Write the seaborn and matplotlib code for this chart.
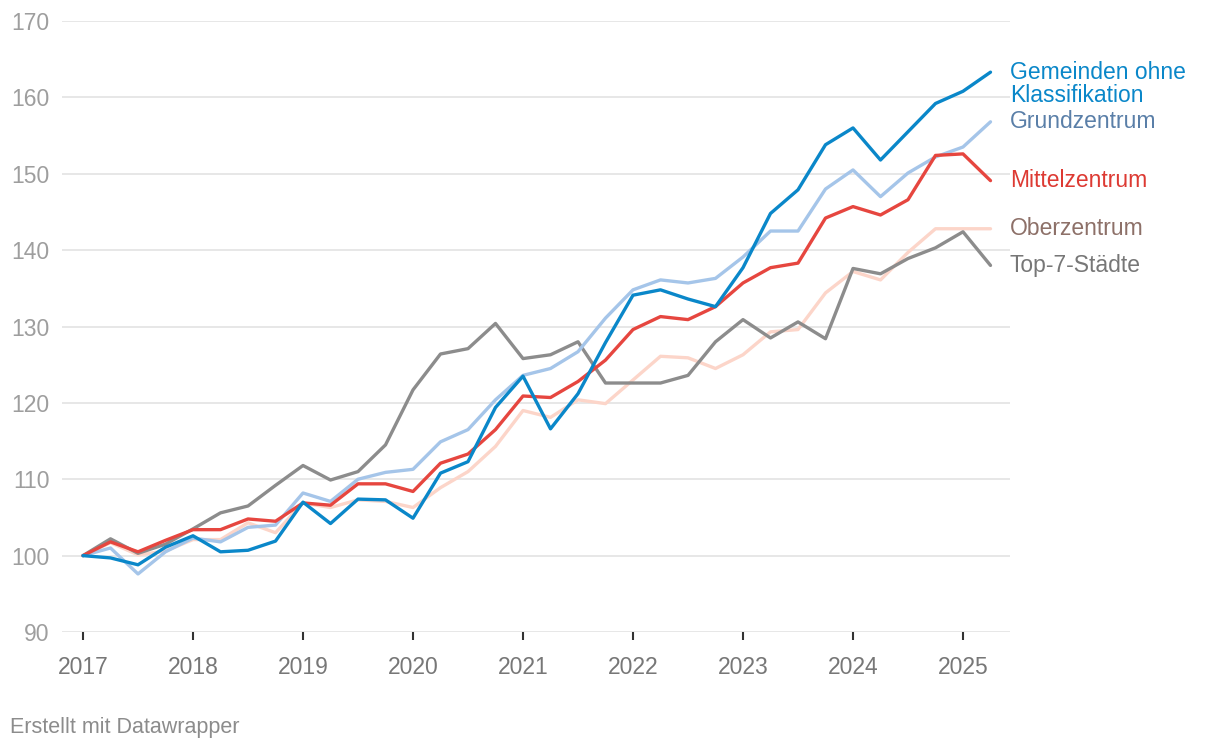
import pandas as pd
import matplotlib
matplotlib.use("Agg")
import matplotlib.pyplot as plt
import seaborn as sns

# --- data: quarterly index values, Q1 2017 = 100 ---
quarters = [2017 + i * 0.25 for i in range(34)]

gemeinden = [100, 99.7, 98.8, 101.1, 102.6, 100.5, 100.7, 101.9, 107.0, 104.2,
             107.4, 107.3, 104.9, 110.8, 112.3, 119.4, 123.5, 116.6, 121.2, 127.9,
             134.1, 134.8, 133.6, 132.6, 137.7, 144.8, 147.9, 153.8, 156.0, 151.8,
             155.5, 159.2, 160.8, 163.3]
grundzentrum = [100, 101.0, 97.6, 100.5, 102.3, 101.8, 103.7, 104.0, 108.2, 107.1,
                110.0, 110.9, 111.3, 114.9, 116.5, 120.4, 123.6, 124.5, 126.7, 131.1,
                134.8, 136.1, 135.7, 136.3, 139.1, 142.5, 142.5, 148.0, 150.5, 147.0,
                150.1, 152.2, 153.5, 156.8]
mittelzentrum = [100, 101.8, 100.5, 102.0, 103.4, 103.4, 104.8, 104.5, 106.9, 106.6,
                 109.4, 109.4, 108.4, 112.1, 113.3, 116.5, 120.9, 120.7, 122.8, 125.6,
                 129.6, 131.3, 130.9, 132.6, 135.7, 137.7, 138.3, 144.2, 145.7, 144.6,
                 146.6, 152.4, 152.6, 149.1]
oberzentrum = [100, 101.7, 100.1, 100.6, 102.1, 102.1, 104.3, 103.0, 106.9, 106.3,
               107.3, 107.1, 106.3, 108.9, 111.0, 114.3, 119.0, 118.1, 120.4, 119.9,
               123.0, 126.1, 125.9, 124.5, 126.3, 129.3, 129.6, 134.4, 137.2, 136.1,
               139.7, 142.8, 142.8, 142.8]
top7 = [100, 102.2, 100.3, 101.5, 103.5, 105.6, 106.5, 109.2, 111.8, 109.9,
        111.0, 114.5, 121.7, 126.4, 127.1, 130.4, 125.8, 126.3, 128.0, 122.6,
        122.6, 122.6, 123.6, 128.0, 130.9, 128.5, 130.6, 128.4, 137.6, 136.9,
        138.9, 140.3, 142.4, 138.0]

year_ticks = list(range(2017, 2026))
y_ticks = list(range(90, 171, 10))

# drawing order: bottom to top
series = {
    "Oberzentrum": oberzentrum,
    "Top-7-Städte": top7,
    "Grundzentrum": grundzentrum,
    "Mittelzentrum": mittelzentrum,
    "Gemeinden ohne\nKlassifikation": gemeinden,
}
line_colors = {
    "Oberzentrum": "#fcd5c9",
    "Top-7-Städte": "#8c8c8c",
    "Grundzentrum": "#a5c5e9",
    "Mittelzentrum": "#e6463f",
    "Gemeinden ohne\nKlassifikation": "#0a87c9",
}
label_colors = {
    "Oberzentrum": "#8d7068",
    "Top-7-Städte": "#777777",
    "Grundzentrum": "#5a7fa8",
    "Mittelzentrum": "#dd3a33",
    "Gemeinden ohne\nKlassifikation": "#0a87c9",
}

df = pd.concat(
    [pd.DataFrame({"Quartal": quarters, "Index": vals, "Typ": name})
     for name, vals in series.items()],
    ignore_index=True,
)

sns.set_style("white")
plt.rcParams["font.family"] = ["Liberation Sans", "DejaVu Sans"]

fig = plt.figure(figsize=(12.2, 7.5), dpi=100)
ax = fig.add_axes([62 / 1220, 1 - 632 / 750, (1010 - 62) / 1220, (632 - 21) / 750])

sns.lineplot(data=df, x="Quartal", y="Index", hue="Typ", palette=line_colors,
             hue_order=list(series.keys()), linewidth=2.4, legend=False, ax=ax)

ax.set_xlim(2017 + (62 - 83) / 110, 2017 + (1010 - 83) / 110)
ax.set_ylim(90, 170)
ax.set_xticks(year_ticks)
ax.set_xticklabels([str(y) for y in year_ticks])
ax.set_yticks(y_ticks)
ax.set_xlabel("")
ax.set_ylabel("")
ax.grid(axis="y", color="#e3e3e3", linewidth=1.2)
ax.grid(axis="x", visible=False)
ax.set_axisbelow(True)
for s in ax.spines.values():
    s.set_visible(False)

ax.tick_params(axis="x", length=6, width=1.5, color="#333333", pad=11,
               labelsize=16.5, labelcolor="#777777", bottom=True)
ax.tick_params(axis="y", length=0, pad=9, labelsize=16.5, labelcolor="#9e9e9e")

# direct labels at the right end
trans = ax.get_yaxis_transform()
for name, vals in series.items():
    y = vals[-1]
    if "\n" in name:
        y = y - 1.6
    ax.text(1.0, y, name, transform=trans, ha="left", va="center",
            fontsize=16.5, color=label_colors[name], linespacing=1.0, clip_on=False)

fig.text(10 / 1220, 1 - 727 / 750, "Erstellt mit Datawrapper", ha="left", va="center",
         fontsize=15.5, color="#8c8c8c")

fig.savefig("out.png", dpi=100)
